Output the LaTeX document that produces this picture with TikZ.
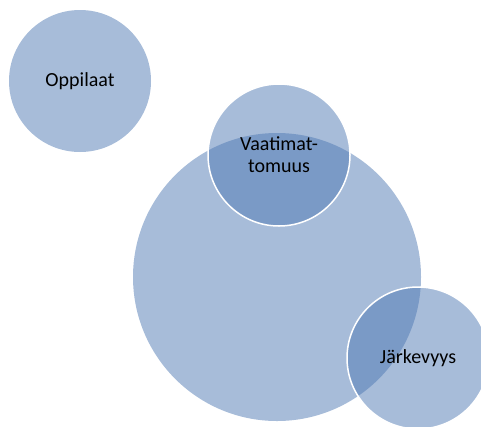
\documentclass[tikz,border=0pt]{standalone}
\usepackage{fontspec}
\setmainfont{Carlito}
\definecolor{bub}{RGB}{79,121,179}
\begin{document}
\begin{tikzpicture}[x=1pt,y=-1pt,
  bubble/.style={circle, fill=bub, fill opacity=0.5, text opacity=1, inner sep=0pt,
    font=\fontsize{20}{22}\selectfont, align=center},
  ring/.style={draw=white, draw opacity=1, line width=1.5pt}]
\useasboundingbox (0,0) rectangle (481,426);
\node[bubble, minimum size=142pt] (opp) at (80,81) {Oppilaat};
\node[bubble, minimum size=288pt] (big) at (277,277) {};
\node[bubble, ring, minimum size=142pt] (vaa) at (279,155) {Vaatimat-\\tomuus};
\node[bubble, ring, minimum size=142pt] (jar) at (418,358) {Järkevyys};
\end{tikzpicture}
\end{document}
